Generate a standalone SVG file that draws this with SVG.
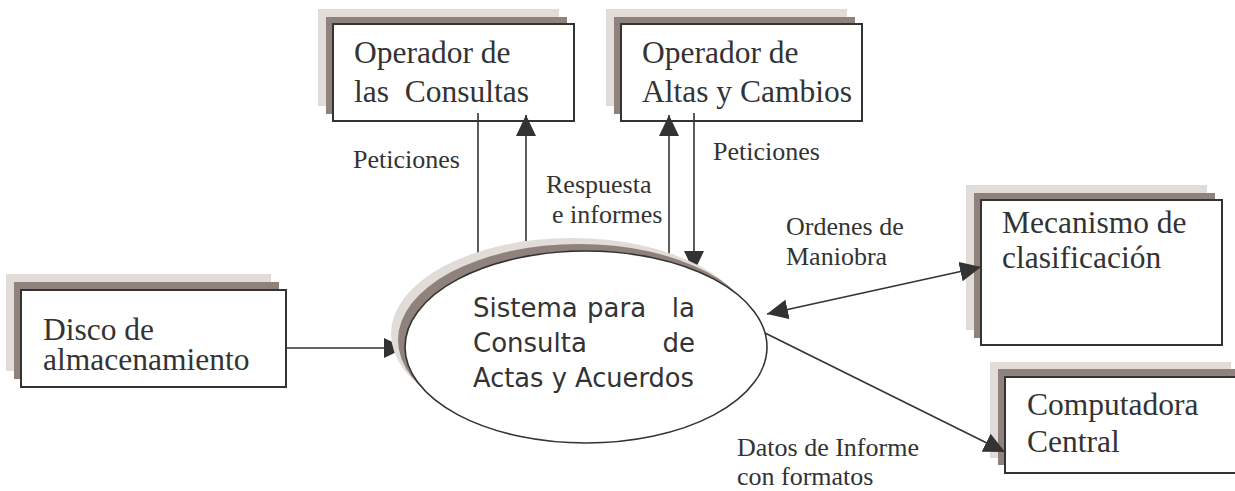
<svg xmlns="http://www.w3.org/2000/svg" width="1235" height="491" viewBox="0 0 1235 491">
<defs>
<style>
.sh1{fill:#e2dcd9;stroke:none}
.sh2{fill:#8f817c;stroke:none}
.box{fill:#ffffff;stroke:#333333;stroke-width:2}
.bt{font-size:31.5px;fill:#333333}
.lb{font-size:26px;fill:#333333}
.et{font-size:26px;fill:#333333}
.ln{fill:none;stroke:#333333;stroke-width:1.6}
</style>
<marker id="ah" viewBox="0 0 21 20" refX="21" refY="10" markerWidth="21" markerHeight="20" markerUnits="userSpaceOnUse" orient="auto-start-reverse">
<path d="M0,0 L21,10 L0,20 Z" fill="#333333"/>
</marker>
</defs>
<rect width="1235" height="491" fill="#ffffff"/>

<g id="consultas" font-family="'Liberation Serif', 'Times New Roman', 'DejaVu Serif', serif">
<rect class="sh1" x="318" y="9" width="241" height="97"/>
<rect class="sh2" x="326" y="17" width="241" height="97"/>
<rect class="box" x="333" y="24" width="241" height="97"/>
<text class="bt" x="354" y="63">Operador de</text>
<text class="bt" x="354" y="102" xml:space="preserve">las  Consultas</text>
</g>

<g id="altas" font-family="'Liberation Serif', 'Times New Roman', 'DejaVu Serif', serif">
<rect class="sh1" x="606" y="9" width="241" height="97"/>
<rect class="sh2" x="614" y="17" width="241" height="97"/>
<rect class="box" x="621" y="24" width="241" height="97"/>
<text class="bt" x="642" y="63">Operador de</text>
<text class="bt" x="642" y="102">Altas y Cambios</text>
</g>

<g id="disco" font-family="'Liberation Serif', 'Times New Roman', 'DejaVu Serif', serif">
<rect class="sh1" x="6" y="274" width="265" height="97"/>
<rect class="sh2" x="14" y="282" width="265" height="97"/>
<rect class="box" x="21" y="290" width="265" height="97"/>
<text class="bt" x="43" y="340">Disco de</text>
<text class="bt" x="43" y="370">almacenamiento</text>
</g>

<g id="mecanismo" font-family="'Liberation Serif', 'Times New Roman', 'DejaVu Serif', serif">
<rect class="sh1" x="966" y="185" width="241" height="145"/>
<rect class="sh2" x="974" y="193" width="241" height="145"/>
<rect class="box" x="981" y="200" width="241" height="145"/>
<text class="bt" x="1002" y="233">Mecanismo de</text>
<text class="bt" x="1002" y="268">clasificación</text>
</g>

<g id="computadora" font-family="'Liberation Serif', 'Times New Roman', 'DejaVu Serif', serif">
<rect class="sh1" x="990" y="362" width="241" height="96"/>
<rect class="sh2" x="998" y="369" width="241" height="96"/>
<rect class="box" x="1005" y="377" width="241" height="96"/>
<text class="bt" x="1027" y="415">Computadora</text>
<text class="bt" x="1027" y="452">Central</text>
</g>

<g id="connectors" font-family="'Liberation Serif', 'Times New Roman', 'DejaVu Serif', serif">
<line class="ln" x1="478" y1="113" x2="478" y2="262"/>
<line class="ln" x1="526" y1="262" x2="526" y2="115" marker-end="url(#ah)"/>
<line class="ln" x1="669" y1="266" x2="669" y2="115" marker-end="url(#ah)"/>
<line class="ln" x1="694" y1="113" x2="694" y2="272" marker-end="url(#ah)"/>
<line class="ln" x1="286" y1="348" x2="405" y2="348" marker-end="url(#ah)"/>
<line class="ln" x1="767" y1="314" x2="981" y2="267" marker-start="url(#ah)" marker-end="url(#ah)"/>
<line class="ln" x1="765" y1="333" x2="1005" y2="452" marker-end="url(#ah)"/>
<text class="lb" x="353" y="168">Peticiones</text>
<text class="lb" x="546" y="193">Respuesta</text>
<text class="lb" x="552" y="223">e informes</text>
<text class="lb" x="713" y="160">Peticiones</text>
<text class="lb" x="786" y="235">Ordenes de</text>
<text class="lb" x="786" y="265">Maniobra</text>
<text class="lb" x="737" y="456">Datos de Informe</text>
<text class="lb" x="737" y="485">con formatos</text>
</g>

<g id="sistema" font-family="'DejaVu Sans', Verdana, sans-serif">
<ellipse class="sh1" cx="572" cy="334" rx="181" ry="96"/>
<ellipse class="sh2" cx="579" cy="340" rx="181" ry="96"/>
<ellipse cx="586" cy="347" rx="181" ry="96" fill="#ffffff" stroke="#333333" stroke-width="1.6"/>
<text class="et" x="473" y="317">Sistema</text>
<text class="et" x="587" y="317">para</text>
<text class="et" x="695" y="317" text-anchor="end">la</text>
<text class="et" x="473" y="352">Consulta</text>
<text class="et" x="695" y="352" text-anchor="end">de</text>
<text class="et" x="473" y="387" textLength="221" lengthAdjust="spacingAndGlyphs">Actas y Acuerdos</text>
</g>
</svg>
